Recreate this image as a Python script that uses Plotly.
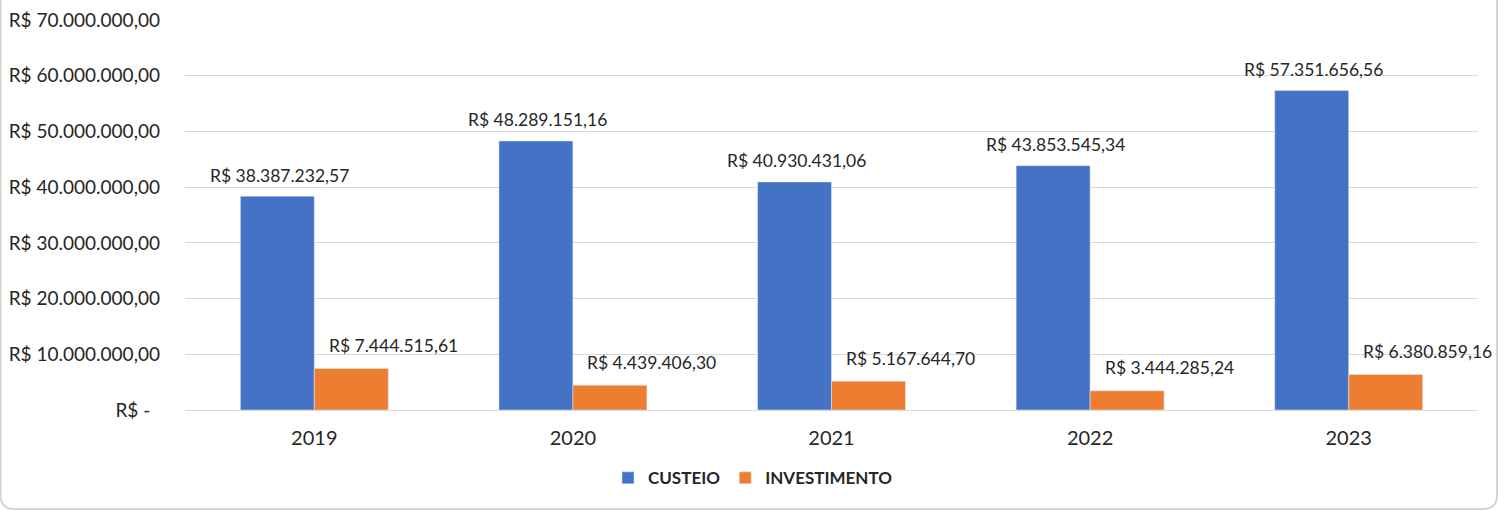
import plotly.graph_objects as go

years = ["2019", "2020", "2021", "2022", "2023"]
custeio = [38387232.57, 48289151.16, 40930431.06, 43853545.34, 57351656.56]
investimento = [7444515.61, 4439406.30, 5167644.70, 3444285.24, 6380859.16]
y_ticks = [0, 10e6, 20e6, 30e6, 40e6, 50e6, 60e6, 70e6]

BLUE = "#4472C4"
ORANGE = "#ED7D31"
TXT = "#262626"
FONT = "Lato"


def brl(v):
    s = f"{v:,.2f}"
    s = s.replace(",", "X").replace(".", ",").replace("X", ".")
    return "R$ " + s


def tick_brl(v):
    if v == 0:
        return "R$ -\u00a0\u00a0"
    return brl(v)


W, H = 1506, 511
ML, MR, MT, MB = 185, 28, 20, 101
plot_w = W - ML - MR
plot_h = H - MT - MB
BARGAP = 0.428
slot = plot_w / len(years)
bar_w = slot * (1 - BARGAP) / 2

fig = go.Figure()
fig.add_trace(go.Bar(x=years, y=custeio, name="CUSTEIO", marker_color=BLUE))
fig.add_trace(go.Bar(x=years, y=investimento, name="INVESTIMENTO", marker_color=ORANGE))

annotations = []
for i, v in enumerate(custeio):
    annotations.append(dict(x=i, y=v, xref="x", yref="y", text=brl(v), showarrow=False,
                            xshift=-bar_w / 2 + 2, yshift=21, yanchor="middle",
                            font=dict(family=FONT, size=17.5, color=TXT)))
for i, v in enumerate(investimento):
    annotations.append(dict(x=i, y=v, xref="x", yref="y", text=brl(v), showarrow=False,
                            xshift=bar_w / 2 + 42, yshift=23, yanchor="middle",
                            font=dict(family=FONT, size=17.5, color=TXT)))

# frame (rounded border of the chart area) in paper coordinates
def px_x(px):
    return (px - ML) / plot_w


def px_y(py):
    return (H - MB - py) / plot_h


r = 14
xl, xr, yb, yt = 0.5, 1497, 509, -10
path = (f"M {px_x(xl)},{px_y(yt)} L {px_x(xl)},{px_y(yb - r)} "
        f"Q {px_x(xl)},{px_y(yb)} {px_x(xl + r)},{px_y(yb)} "
        f"L {px_x(xr - r)},{px_y(yb)} Q {px_x(xr)},{px_y(yb)} {px_x(xr)},{px_y(yb - r)} "
        f"L {px_x(xr)},{px_y(yt)}")

fig.update_layout(
    width=W, height=H,
    margin=dict(l=ML, r=MR, t=MT, b=MB, autoexpand=False),
    paper_bgcolor="white", plot_bgcolor="white",
    barmode="group", bargap=BARGAP, bargroupgap=0,
    font=dict(family=FONT, color=TXT),
    annotations=annotations,
    shapes=[dict(type="path", path=path, xref="paper", yref="paper",
                 line=dict(color="#d4d4d4", width=2), layer="below")],
    showlegend=True,
    legend=dict(orientation="h", xref="container", yref="container",
                x=0.5, xanchor="center", y=0.064, yanchor="middle",
                font=dict(family=FONT, size=17, color=TXT, weight="bold"),
                itemwidth=30, tracegroupgap=0),
)
fig.update_xaxes(type="category", range=[-0.5, len(years) - 0.5],
                 showgrid=False, showline=False, ticks="",
                 tickfont=dict(family=FONT, size=20, color=TXT),
                 ticklabelstandoff=14, automargin=False)
fig.update_yaxes(range=[0, 70e6], tickvals=y_ticks, ticktext=[tick_brl(v) for v in y_ticks],
                 showgrid=True, gridcolor="#d9d9d9", gridwidth=1,
                 zeroline=True, zerolinecolor="#d9d9d9", zerolinewidth=1,
                 showline=False, ticks="", automargin=False,
                 tickfont=dict(family=FONT, size=19, color=TXT),
                 ticklabelstandoff=24)

fig.write_html("out.html", config={"displayModeBar": False},
               post_script="document.body.style.margin='0';document.body.style.overflow='hidden';")
